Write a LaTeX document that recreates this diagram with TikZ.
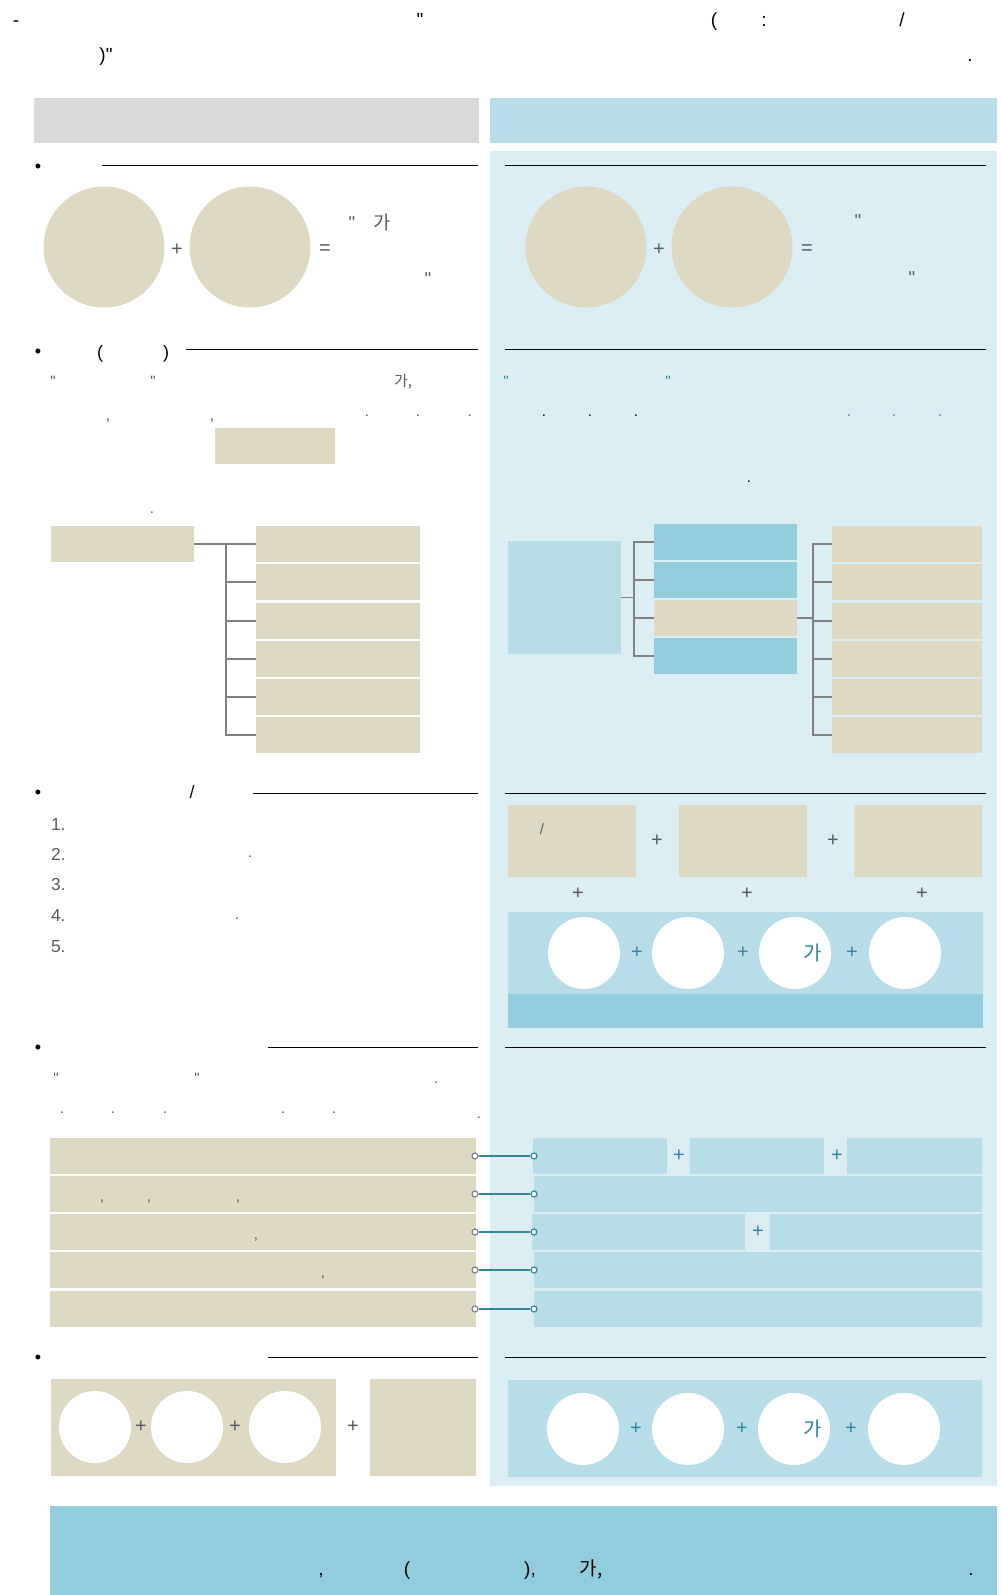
\documentclass[tikz,border=0pt]{standalone}
\usepackage{fontspec}
\setmainfont{Liberation Sans}[Ligatures=TeXOff]
\newfontfamily\krfont{Noto Sans CJK KR}
\usetikzlibrary{positioning}
\definecolor{tanfill}{HTML}{DDD9C3}
\definecolor{hdgray}{HTML}{D9D9D9}
\definecolor{paleblue}{HTML}{DBEEF4}
\definecolor{skyblue}{HTML}{B7DDE8}
\definecolor{midblue}{HTML}{93CDDD}
\definecolor{tealtxt}{HTML}{31859C}
\definecolor{bodygray}{HTML}{595959}
\definecolor{wiregray}{HTML}{808080}
\tikzset{
  txt/.style={anchor=base, inner sep=0pt, outer sep=0pt},
  toptxt/.style={txt, font=\fontsize{14.25}{17}\selectfont},
  headtxt/.style={txt, font=\fontsize{13.5}{16}\selectfont},
  bodytxt/.style={txt, text=bodygray, font=\fontsize{11.25}{13}\selectfont},
  bigtxt/.style={txt, text=bodygray, font=\fontsize{14}{16}\selectfont},
  plustxt/.style={inner sep=0pt, text=bodygray, font=\fontsize{15}{17}\selectfont},
  tealplus/.style={plustxt, text=tealtxt},
  block/.style n args={3}{fill=#1, inner sep=0pt, outer sep=0pt, anchor=north west,
    minimum width=#2*0.75pt, minimum height=#3*0.75pt},
  bigdisc/.style={circle, fill=tanfill, minimum size=121*0.75pt, inner sep=0pt},
  disc/.style={circle, fill=white, minimum size=72*0.75pt, inner sep=0pt},
  wire/.style={draw=wiregray, line width=0.9pt},
  rule/.style={draw=black, line width=0.75pt},
  gpin/.style={circle, draw=wiregray, fill=white, line width=0.9pt, minimum size=6*0.75pt, inner sep=0pt},
  tpin/.style={gpin, draw=tealtxt},
}
\begin{document}
\begin{tikzpicture}[x=0.75pt, y=-0.75pt]
\useasboundingbox (0,0) rectangle (1002,1595);
% note on top
\node[toptxt] (dash) at (16,27) {-};
\node[toptxt] (topq) at (420,27) {"};
\node[toptxt] (topl) at (714,27) {(};
\node[toptxt] (topc) at (764,27) {:};
\node[toptxt] (tops) at (902,27) {/};
\node[toptxt] (topr) at (106,62) {)"};
\node[toptxt] (topd) at (970,62) {.};
% column heads
\node[block={hdgray}{445}{45}] (headL) at (34,98) {};
\node[block={skyblue}{507}{45}] (headR) at (490,98) {};
\fill[paleblue] (490,151) rectangle (997,1486);
% section 1
\node[headtxt] (b1) at (38,172) {•};
\draw[rule] (102,165) -- (478,165);
\draw[rule] (505,165) -- (986,165);
\node[bigdisc] (s1a) at (104,247) {};
\node[bigdisc] (s1b) at (250,247) {};
\node[plustxt] (s1p) at (177,250) {+};
\node[plustxt] (s1e) at (325,250) {=};
\node[bigtxt] (s1q1) at (352,229) {"};
\node[bigtxt] (s1ga) at (382,229) {\krfont 가};
\node[bigtxt] (s1q2) at (428,285) {"};
\node[bigdisc] (s1c) at (586,247) {};
\node[bigdisc] (s1d) at (732,247) {};
\node[plustxt] (s1p2) at (659,250) {+};
\node[plustxt] (s1e2) at (807,250) {=};
\node[bigtxt] (s1q3) at (858,227) {"};
\node[bigtxt] (s1q4) at (912,284) {"};
% section 2
\node[headtxt] (b2) at (38,357) {•};
\node[headtxt] (s2l) at (100,358) {(};
\node[headtxt] (s2r) at (166,358) {)};
\draw[rule] (186,349) -- (478,349);
\draw[rule] (505,349) -- (986,349);
\node[bodytxt] (s2q1) at (53,386) {"};
\node[bodytxt] (s2q2) at (153,386) {"};
\node[bodytxt] (s2ga) at (403,386) {\krfont 가,};
\node[bodytxt] (s2k1) at (108,420) {,};
\node[bodytxt] (s2k2) at (212,420) {,};
\foreach \x [count=\i] in {367,418,470} \node[bodytxt] (s2d\i) at (\x,416) {.};
\node[block={tanfill}{120}{36}] (s2mark) at (215,428) {};
\node[bodytxt] (s2e) at (152,513) {.};
\node[bodytxt, text=tealtxt] (s2q3) at (506,386) {"};
\node[bodytxt, text=tealtxt] (s2q4) at (668,386) {"};
\foreach \x [count=\i] in {544,590,636} \node[bodytxt, text=black] (s2b\i) at (\x,416) {.};
\foreach \x [count=\i] in {849,894,940} \node[bodytxt, text=tealtxt] (s2t\i) at (\x,416) {.};
\node[bodytxt, text=black] (s2f) at (749,482) {.};
% left tree
\node[block={tanfill}{143}{36}] (L0) at (51,526) {};
\foreach \y [count=\i] in {526,564,603,641,679,717}
  \node[block={tanfill}{164}{36}] (L\i) at (256,\y) {};
\coordinate (Lhub) at (226,544);
\draw[wire] (L0.east) -- (L1.west);
\foreach \i in {2,...,6} \draw[wire] (Lhub) |- (L\i.west);
% right tree
\node[block={skyblue}{113}{113}] (B0) at (508,541) {};
\foreach \y/\c [count=\i] in {524/midblue,562/midblue,600/tanfill,638/midblue}
  \node[block={\c}{143}{36}] (M\i) at (654,\y) {};
\path (B0.east) ++(13,0) coordinate (Bhub);
\draw[wire] (B0.east) -- (Bhub);
\foreach \i in {1,...,4} \draw[wire] (Bhub) |- (M\i.west);
\foreach \y [count=\i] in {526,564,603,641,679,717}
  \node[block={tanfill}{150}{36}] (R\i) at (832,\y) {};
\path (M3.east) ++(16,0) coordinate (Rhub);
\draw[wire] (M3.east) -- (Rhub);
\foreach \i in {1,...,6} \draw[wire] (Rhub) |- (R\i.west);
% section 3
\node[headtxt] (b3) at (38,798) {•};
\node[headtxt] (s3s) at (192,798) {/};
\draw[rule] (253,793) -- (478,793);
\draw[rule] (505,793) -- (986,793);
\foreach \y [count=\i] in {830,860,890,921,952}
  \node[bodytxt, anchor=base west, font=\fontsize{13}{15}\selectfont] (n\i) at (51,\y) {\i.};
\node[bodytxt] (s3d1) at (250,857) {.};
\node[bodytxt] (s3d2) at (237,919) {.};
\foreach \x [count=\i] in {508,679,854} \node[block={tanfill}{128}{72}] (P\i) at (\x,805) {};
\node[bodytxt] (s3sl) at (542,834) {/};
\node[plustxt] (pp1) at (657,841) {+};
\node[plustxt] (pp2) at (833,841) {+};
\foreach \x [count=\i] in {578,747,922} \node[plustxt] (pq\i) at (\x,894) {+};
\node[block={skyblue}{475}{82}] (band) at (508,912) {};
\node[block={midblue}{475}{34}] (bandlow) at (508,994) {};
\foreach \x [count=\i] in {584,688,795,905} \node[disc] (c\i) at (\x,953) {};
\foreach \x [count=\i] in {637,743,852} \node[tealplus] (cp\i) at (\x,953) {+};
\node[text=tealtxt, inner sep=0pt, font=\krfont\fontsize{15}{17}\selectfont] (cga) at (813,953) {가};
% section 4
\node[headtxt] (b4) at (38,1053) {•};
\draw[rule] (268,1047) -- (478,1047);
\draw[rule] (505,1047) -- (986,1047);
\node[bodytxt] (s4q1) at (56,1083) {"};
\node[bodytxt] (s4q2) at (197,1083) {"};
\node[bodytxt] (s4d0) at (436,1083) {.};
\foreach \x [count=\i] in {62,113,165,283,334} \node[bodytxt] (s4d\i) at (\x,1113) {.};
\node[bodytxt] (s4e) at (479,1118) {.};
\foreach \y [count=\i] in {1138,1176,1214,1252,1291}
  \node[block={tanfill}{426}{36}] (row\i) at (50,\y) {};
\foreach \x [count=\i] in {102,149,238} \node[bodytxt] (s4k\i) at (\x,1201) {,};
\node[bodytxt] (s4k4) at (256,1239) {,};
\node[bodytxt] (s4k5) at (323,1277) {,};
\node[block={skyblue}{134}{36}] (v1a) at (533,1138) {};
\node[block={skyblue}{134}{36}] (v1b) at (690,1138) {};
\node[block={skyblue}{135}{36}] (v1c) at (847,1138) {};
\node[tealplus] (vp1) at (679,1156) {+};
\node[tealplus] (vp2) at (837,1156) {+};
\node[block={skyblue}{448}{36}] (v2) at (534,1176) {};
\node[block={skyblue}{213}{36}] (v3a) at (532,1214) {};
\node[block={skyblue}{212}{36}] (v3b) at (770,1214) {};
\node[tealplus] (vp3) at (758,1232) {+};
\node[block={skyblue}{448}{36}] (v4) at (534,1252) {};
\node[block={skyblue}{448}{36}] (v5) at (534,1291) {};
\foreach \i in {1,...,5} {
  \path (row\i.east) ++(-1,0) node[gpin] (gp\i) {};
  \path (row\i.east) ++(58,0) node[tpin] (tp\i) {};
  \draw[tealtxt, line width=0.9pt] (gp\i) -- (tp\i);
}
% section 5
\node[headtxt] (b5) at (38,1363) {•};
\draw[rule] (268,1357) -- (478,1357);
\draw[rule] (505,1357) -- (986,1357);
\node[block={tanfill}{285}{97}] (T0) at (51,1379) {};
\node[block={tanfill}{106}{97}] (T1) at (370,1379) {};
\foreach \x [count=\i] in {95,187,285} \node[disc] (e\i) at (\x,1427) {};
\foreach \x [count=\i] in {141,235,353} \node[plustxt] (ep\i) at (\x,1427) {+};
\node[block={skyblue}{474}{97}] (U0) at (508,1380) {};
\foreach \x [count=\i] in {583,688,794,904} \node[disc] (f\i) at (\x,1429) {};
\foreach \x [count=\i] in {636,742,851} \node[tealplus] (fp\i) at (\x,1429) {+};
\node[text=tealtxt, inner sep=0pt, font=\krfont\fontsize{15}{17}\selectfont] (fga) at (813,1429) {가};
% closing note
\node[block={midblue}{947}{89}] (note) at (50,1506) {};
\node[toptxt] (nk1) at (321,1575) {,};
\node[toptxt] (nl) at (407,1575) {(};
\node[toptxt] (nr) at (530,1575) {),};
\node[toptxt] (nga) at (591,1575) {\krfont 가,};
\node[toptxt] (nd) at (971,1575) {.};
\end{tikzpicture}
\end{document}
